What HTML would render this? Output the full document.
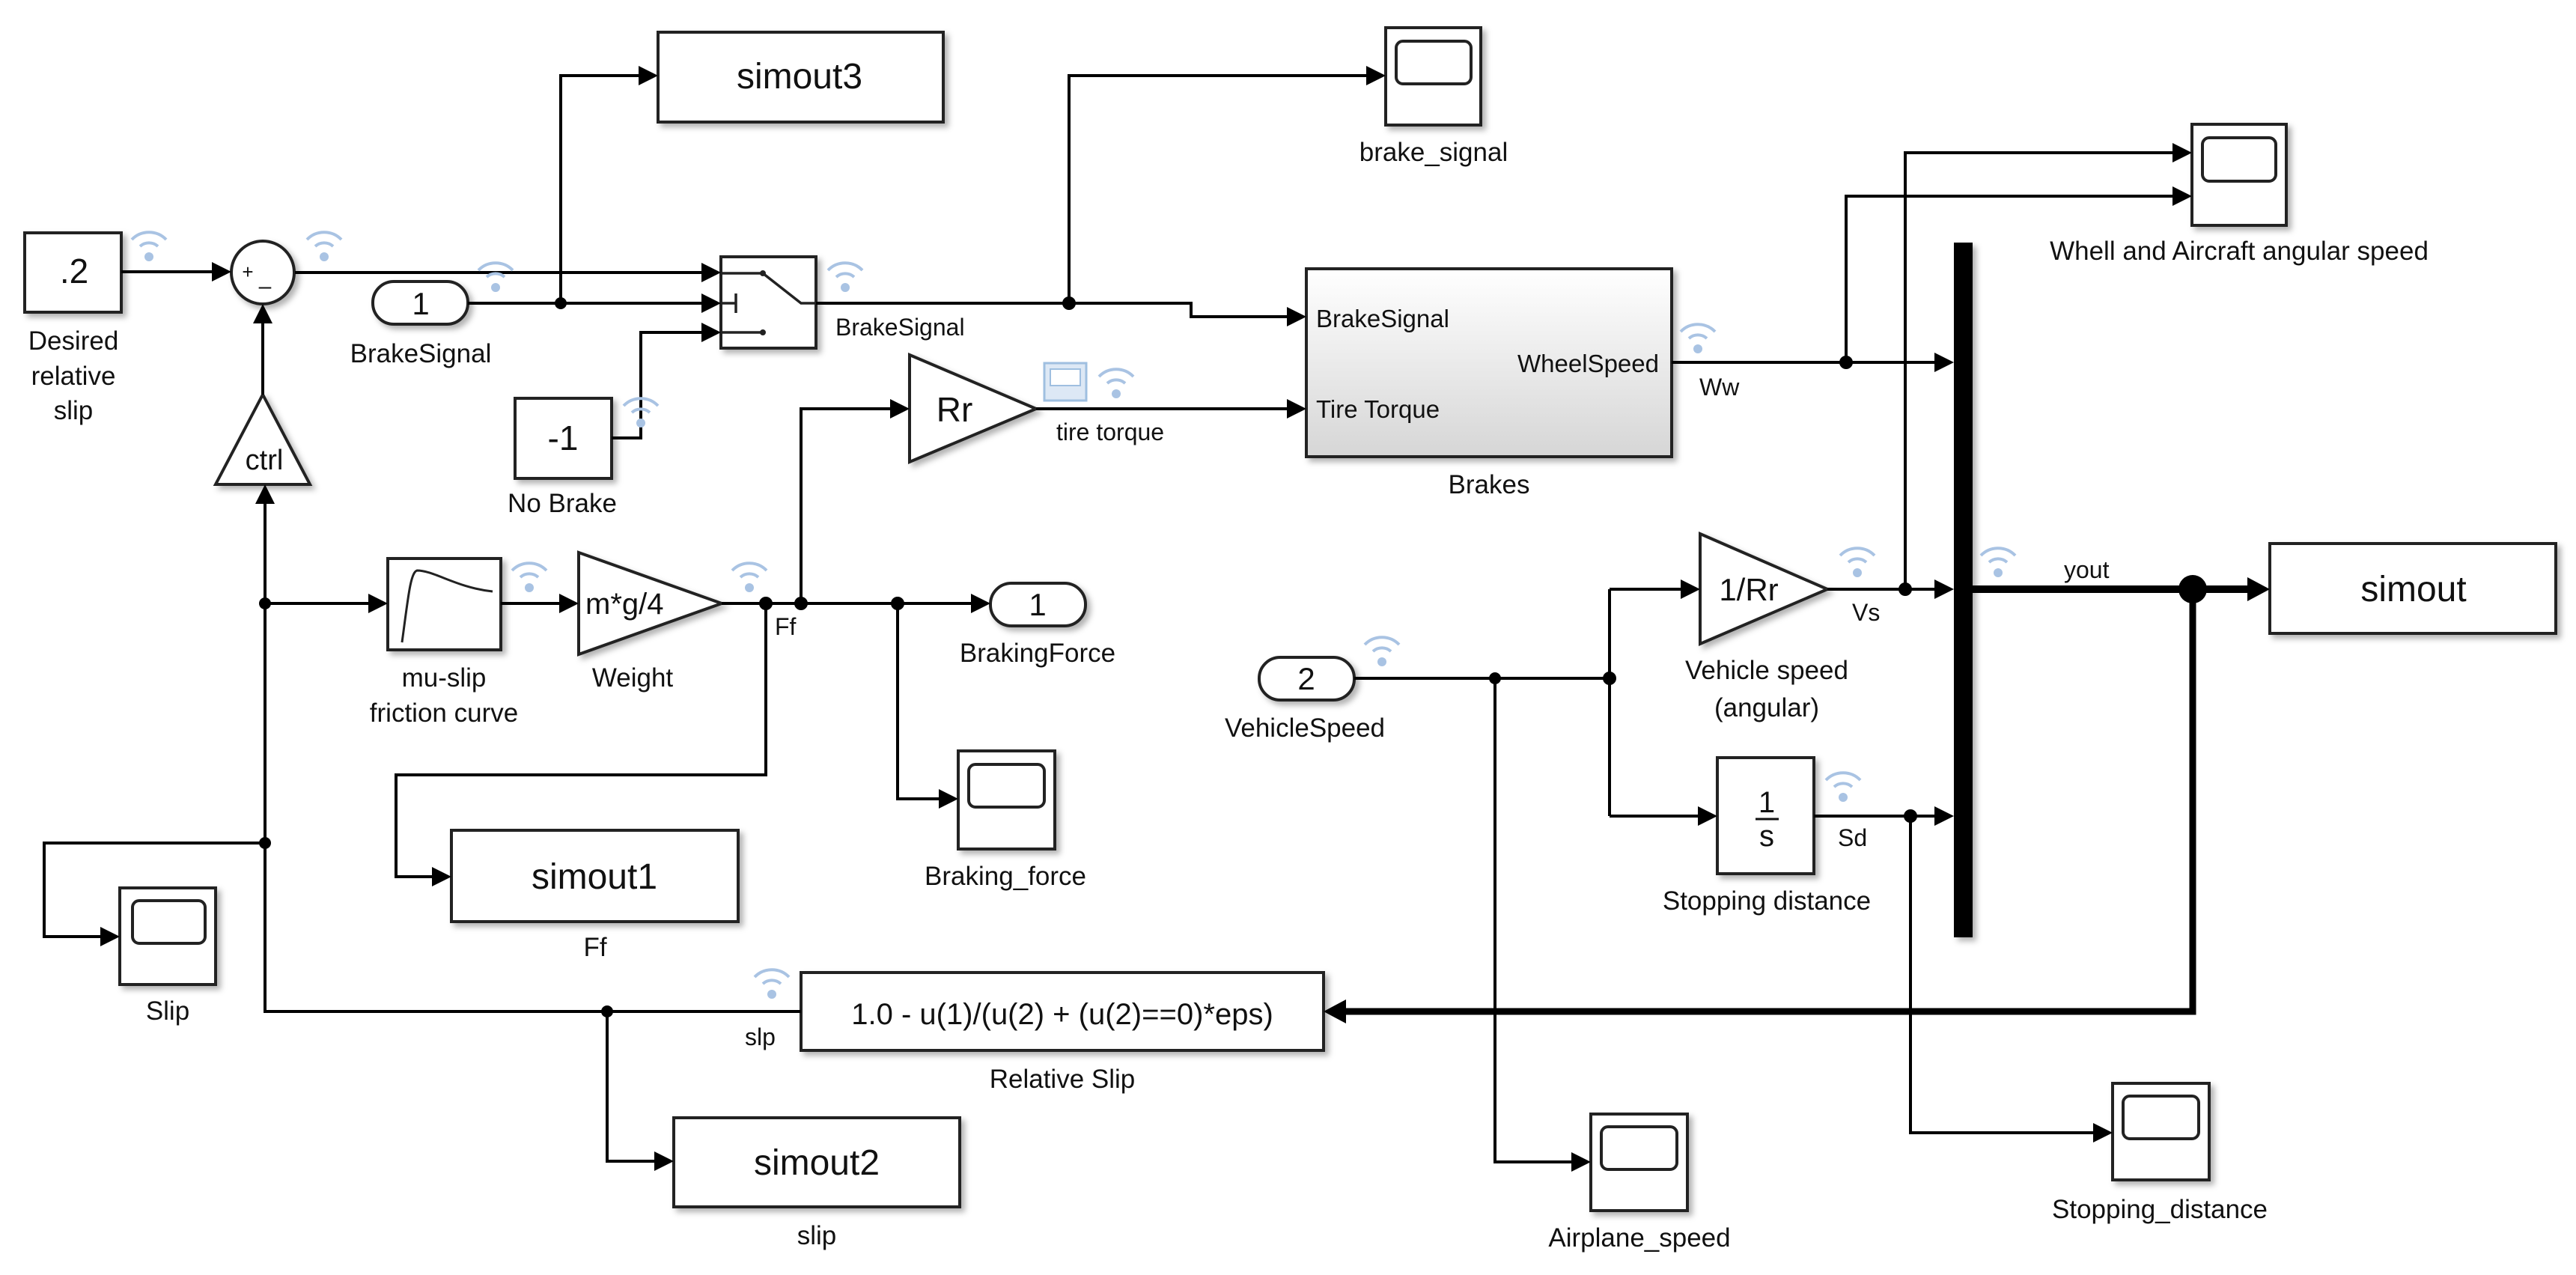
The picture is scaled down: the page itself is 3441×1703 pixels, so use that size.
<!DOCTYPE html>
<html><head><meta charset="utf-8"><style>
html,body{margin:0;padding:0;background:#fff;}
svg{display:block;}
text{font-family:"Liberation Sans",Arial,sans-serif;fill:#111;}
</style></head><body>
<svg width="3441" height="1703" viewBox="0 0 3441 1703" xmlns="http://www.w3.org/2000/svg">
<defs>
<filter id="sh" x="-10%" y="-10%" width="130%" height="130%"><feDropShadow dx="5" dy="5" stdDeviation="4" flood-color="#000" flood-opacity="0.3"/></filter>
<linearGradient id="gr" x1="0" y1="0" x2="0" y2="1"><stop offset="0" stop-color="#fff"/><stop offset="1" stop-color="#d6d6d6"/></linearGradient>
</defs>
<rect width="3441" height="1703" fill="#fff"/>

<g stroke="#222" stroke-width="4" fill="#fff" filter="url(#sh)">
<rect x="33" y="311" width="129" height="106"/>
<circle cx="351" cy="364" r="42"/>
<polygon points="351,527 414,647 288,647"/>
<rect x="498" y="376" width="127" height="57" rx="28"/>
<rect x="688" y="532" width="129" height="107"/>
<rect x="879" y="43" width="381" height="120"/>
<rect x="963" y="343" width="127" height="122"/>
<rect x="518" y="746" width="151" height="122"/>
<polygon points="773,738 964,806 773,874"/>
<polygon points="1215,474 1384,546 1215,617"/>
<rect x="1323" y="779" width="127" height="57" rx="28"/>
<rect x="603" y="1109" width="383" height="122"/>
<rect x="1280" y="1003" width="129" height="131"/>
<rect x="160" y="1186" width="128" height="129"/>
<rect x="1070" y="1299" width="698" height="104"/>
<rect x="900" y="1493" width="382" height="119"/>
<rect x="1851" y="37" width="127" height="130"/>
<rect x="1745" y="359" width="488" height="251" fill="url(#gr)"/>
<rect x="2928" y="166" width="126" height="135"/>
<polygon points="2271,713 2441,787 2271,860"/>
<rect x="1682" y="878" width="127" height="57" rx="28"/>
<rect x="2294" y="1012" width="129" height="155"/>
<rect x="2125" y="1488" width="129" height="129"/>
<rect x="2822" y="1447" width="129" height="129"/>
<rect x="3032" y="726" width="382" height="120"/>
<rect x="2610" y="324" width="25" height="928" fill="#000" stroke="none"/>
</g>

<g stroke="#222" stroke-width="4" fill="#fff">
<rect x="1865" y="55" width="100" height="57" rx="9"/>
<rect x="2942" y="184" width="98" height="58" rx="9"/>
<rect x="1294" y="1021" width="101" height="57" rx="9"/>
<rect x="177" y="1203" width="97" height="57" rx="9"/>
<rect x="2139" y="1505" width="101" height="57" rx="9"/>
<rect x="2836" y="1464" width="101" height="57" rx="9"/>
</g>
<rect x="1395" y="485" width="56" height="50" fill="#dde8f5" stroke="#9fbfe0" stroke-width="3"/>
<rect x="1403" y="493" width="40" height="22" fill="#fff" stroke="#9fbfe0" stroke-width="2"/>

<g stroke="#222" stroke-width="3.5" fill="none">
<path d="M963,365 H1019 L1070,405 H1090"/>
<path d="M963,405 H983 M983,392 V418"/>
<path d="M963,444 H1019"/>
<path d="M537,858 C545,800 548,765 557,762 C580,762 610,785 658,790" stroke-width="3"/>
</g>
<circle cx="1019" cy="365" r="4" fill="#222"/><circle cx="1019" cy="444" r="4" fill="#222"/>

<g stroke="#000" stroke-width="4" fill="none">
<path d="M162,363 H285"/>
<path d="M394,364 H939"/>
<path d="M625,405 H939"/>
<path d="M749,405 V101 H855"/>
<path d="M817,585 H856 V444 H939"/>
<path d="M1090,405 H1591 V423 H1721"/>
<path d="M1428,405 V101 H1827"/>
<path d="M1384,546 H1721"/>
<path d="M964,806 H1299"/>
<path d="M1070,806 V546 H1191"/>
<path d="M1023,806 V1035 H529 V1171 H579"/>
<path d="M1199,806 V1067 H1256"/>
<path d="M669,806 H749"/>
<path d="M354,806 H494"/>
<path d="M1070,1351 H354 V671"/>
<path d="M351,527 V430"/>
<path d="M354,1126 H59 V1251 H136"/>
<path d="M811,1351 V1551 H876"/>
<path d="M2233,484 H2586"/>
<path d="M2466,484 V262 H2904"/>
<path d="M2441,787 H2586"/>
<path d="M2545,787 V204 H2904"/>
<path d="M1809,906 H2150 M2150,787 V1090"/>
<path d="M2150,787 H2247 M2150,1090 H2270"/>
<path d="M1997,906 V1552 H2101"/>
<path d="M2423,1090 H2586"/>
<path d="M2552,1090 V1513 H2798"/>
<path d="M2635,787 H3005" stroke-width="10"/>
<path d="M2929,787 V1351 H1795" stroke-width="9"/>
</g>

<g fill="#000">
<polygon points="283,350 309,363 283,376"/>
<polygon points="937,351 963,364 937,377"/>
<polygon points="937,392 963,405 937,418"/>
<polygon points="853,88 879,101 853,114"/>
<polygon points="937,431 963,444 937,457"/>
<polygon points="1719,410 1745,423 1719,436"/>
<polygon points="1825,88 1851,101 1825,114"/>
<polygon points="1719,533 1745,546 1719,559"/>
<polygon points="1297,793 1323,806 1297,819"/>
<polygon points="1189,533 1215,546 1189,559"/>
<polygon points="577,1158 603,1171 577,1184"/>
<polygon points="1254,1054 1280,1067 1254,1080"/>
<polygon points="747,793 773,806 747,819"/>
<polygon points="492,793 518,806 492,819"/>
<polygon points="341,673 354,647 367,673"/>
<polygon points="338,432 351,406 364,432"/>
<polygon points="134,1238 160,1251 134,1264"/>
<polygon points="874,1538 900,1551 874,1564"/>
<polygon points="2584,471 2610,484 2584,497"/>
<polygon points="2902,249 2928,262 2902,275"/>
<polygon points="2584,774 2610,787 2584,800"/>
<polygon points="2902,191 2928,204 2902,217"/>
<polygon points="2245,774 2271,787 2245,800"/>
<polygon points="2268,1077 2294,1090 2268,1103"/>
<polygon points="2099,1539 2125,1552 2099,1565"/>
<polygon points="2584,1077 2610,1090 2584,1103"/>
<polygon points="2796,1500 2822,1513 2796,1526"/>
<polygon points="3002,771 3032,787 3002,803"/>
<polygon points="1798,1335 1768,1351 1798,1367"/>
</g>

<g fill="#000">
<circle cx="749" cy="405" r="8"/><circle cx="1428" cy="405" r="9"/>
<circle cx="1023" cy="806" r="9"/><circle cx="1070" cy="806" r="9"/><circle cx="1199" cy="806" r="9"/>
<circle cx="354" cy="806" r="8"/><circle cx="354" cy="1126" r="8"/><circle cx="811" cy="1351" r="8"/>
<circle cx="2466" cy="484" r="9"/><circle cx="2545" cy="787" r="9"/>
<circle cx="1997" cy="906" r="8"/><circle cx="2150" cy="906" r="9"/><circle cx="2552" cy="1090" r="9"/>
<circle cx="2929" cy="787" r="19"/>
</g>

<g stroke="#a9c3e3" stroke-width="4" fill="none">
<path d="M187,329 A18 18 0 0 1 211,329 M176,320 A32 32 0 0 1 222,320"/>
<path d="M421,329 A18 18 0 0 1 445,329 M410,320 A32 32 0 0 1 456,320"/>
<path d="M650,370 A18 18 0 0 1 674,370 M639,361 A32 32 0 0 1 685,361"/>
<path d="M844,551 A18 18 0 0 1 868,551 M833,542 A32 32 0 0 1 879,542"/>
<path d="M695,771 A18 18 0 0 1 719,771 M684,762 A32 32 0 0 1 730,762"/>
<path d="M1117,370 A18 18 0 0 1 1141,370 M1106,361 A32 32 0 0 1 1152,361"/>
<path d="M989,771 A18 18 0 0 1 1013,771 M978,762 A32 32 0 0 1 1024,762"/>
<path d="M1479,512 A18 18 0 0 1 1503,512 M1468,503 A32 32 0 0 1 1514,503"/>
<path d="M2256,452 A18 18 0 0 1 2280,452 M2245,443 A32 32 0 0 1 2291,443"/>
<path d="M2469,751 A18 18 0 0 1 2493,751 M2458,742 A32 32 0 0 1 2504,742"/>
<path d="M1834,870 A18 18 0 0 1 1858,870 M1823,861 A32 32 0 0 1 1869,861"/>
<path d="M2450,1051 A18 18 0 0 1 2474,1051 M2439,1042 A32 32 0 0 1 2485,1042"/>
<path d="M2657,751 A18 18 0 0 1 2681,751 M2646,742 A32 32 0 0 1 2692,742"/>
<path d="M1019,1314 A18 18 0 0 1 1043,1314 M1008,1305 A32 32 0 0 1 1054,1305"/>
</g>
<g fill="#a9c3e3">
<circle cx="199" cy="343" r="6"/><circle cx="433" cy="343" r="6"/><circle cx="662" cy="384" r="6"/>
<circle cx="856" cy="565" r="6"/><circle cx="707" cy="785" r="6"/><circle cx="1129" cy="384" r="6"/>
<circle cx="1001" cy="785" r="6"/><circle cx="1491" cy="526" r="6"/><circle cx="2268" cy="466" r="6"/>
<circle cx="2481" cy="765" r="6"/><circle cx="1846" cy="884" r="6"/><circle cx="2462" cy="1065" r="6"/>
<circle cx="2669" cy="765" r="6"/><circle cx="1031" cy="1328" r="6"/>
</g>

<g text-anchor="middle">
<text x="99" y="378" font-size="46">.2</text>
<text x="331" y="372" font-size="26">+</text>
<text x="354" y="392" font-size="30">–</text>
<text x="353" y="627" font-size="38">ctrl</text>
<text x="562" y="420" font-size="42">1</text>
<text x="752" y="601" font-size="46">-1</text>
<text x="1068" y="118" font-size="48">simout3</text>
<text x="1275" y="563" font-size="46">Rr</text>
<text x="1386" y="822" font-size="42">1</text>
<text x="794" y="1187" font-size="48">simout1</text>
<text x="1419" y="1368" font-size="40">1.0 - u(1)/(u(2) + (u(2)==0)*eps)</text>
<text x="1091" y="1569" font-size="48">simout2</text>
<text x="2336" y="802" font-size="42">1/Rr</text>
<text x="1745" y="921" font-size="42">2</text>
<text x="2360" y="1085" font-size="40">1</text>
<text x="2360" y="1130" font-size="40">s</text>
<text x="3224" y="803" font-size="48">simout</text>
</g>
<text x="782" y="820" font-size="40">m*g/4</text>
<line x1="2345" y1="1094" x2="2376" y2="1094" stroke="#111" stroke-width="3"/>
<g font-size="33">
<text x="1758" y="437">BrakeSignal</text>
<text x="1758" y="558">Tire Torque</text>
<text x="2216" y="497" text-anchor="end">WheelSpeed</text>
</g>

<g font-size="35" text-anchor="middle">
<text x="98" y="467">Desired</text>
<text x="98" y="514">relative</text>
<text x="98" y="560">slip</text>
<text x="562" y="484">BrakeSignal</text>
<text x="751" y="684">No Brake</text>
<text x="593" y="917">mu-slip</text>
<text x="593" y="964">friction curve</text>
<text x="845" y="917">Weight</text>
<text x="1386" y="884">BrakingForce</text>
<text x="795" y="1277">Ff</text>
<text x="1343" y="1182">Braking_force</text>
<text x="224" y="1362">Slip</text>
<text x="1419" y="1453">Relative Slip</text>
<text x="1091" y="1662">slip</text>
<text x="1915" y="215">brake_signal</text>
<text x="1989" y="659">Brakes</text>
<text x="2991" y="347">Whell and Aircraft angular speed</text>
<text x="2360" y="907">Vehicle speed</text>
<text x="2360" y="957">(angular)</text>
<text x="1743" y="984">VehicleSpeed</text>
<text x="2360" y="1215">Stopping distance</text>
<text x="2190" y="1665">Airplane_speed</text>
<text x="2885" y="1627">Stopping_distance</text>
</g>
<g font-size="32">
<text x="1116" y="448">BrakeSignal</text>
<text x="1411" y="588">tire torque</text>
<text x="1035" y="848">Ff</text>
<text x="2270" y="528">Ww</text>
<text x="2474" y="829">Vs</text>
<text x="2455" y="1130">Sd</text>
<text x="2757" y="772">yout</text>
<text x="995" y="1396">slp</text>
</g>
</svg>
</body></html>
